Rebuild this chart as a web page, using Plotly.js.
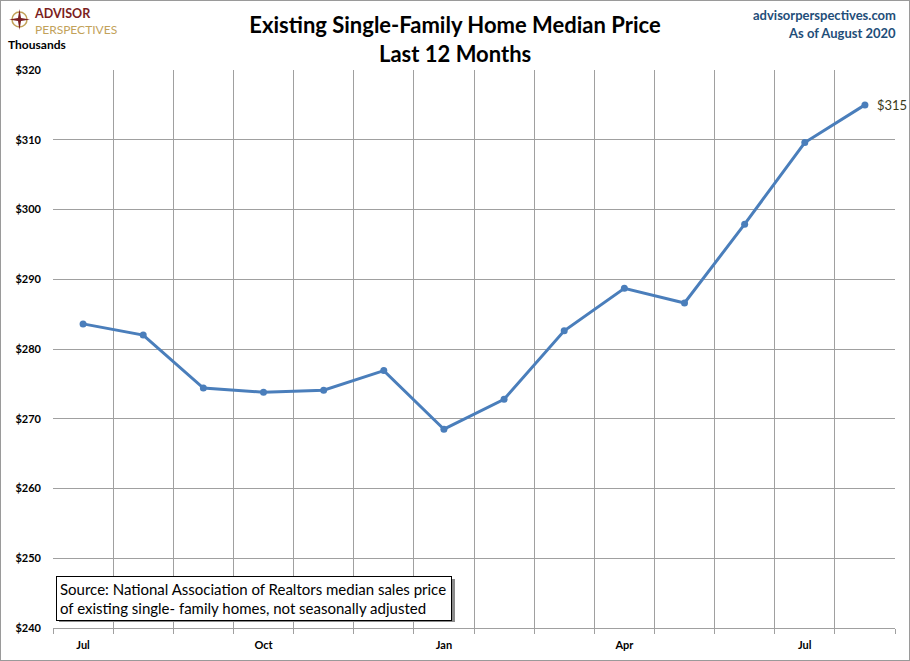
<!DOCTYPE html>
<html>
<head>
<meta charset="utf-8">
<script src="https://cdn.plot.ly/plotly-3.0.1.min.js"></script>
<style>
  html, body { margin: 0; padding: 0; background: #fff; }
  #chart { width: 910px; height: 661px; }
  #frame { position: absolute; left: 0; top: 0; width: 908px; height: 659px; border: 1px solid #9a9a9a; pointer-events: none; }
</style>
</head>
<body>
<div id="chart"></div>
<div id="frame"></div>
<script>
// ---- Data ----
const months = ["Jul 2019","Aug 2019","Sep 2019","Oct 2019","Nov 2019","Dec 2019","Jan 2020","Feb 2020","Mar 2020","Apr 2020","May 2020","Jun 2020","Jul 2020","Aug 2020"];
const medianPrice = [283.6, 282.0, 274.4, 273.8, 274.1, 276.9, 268.5, 272.8, 282.6, 288.7, 286.6, 297.9, 309.6, 315.0];
const tickLabels = ["Jul","Oct","Jan","Apr","Jul"];
const tickMonths = ["Jul 2019","Oct 2019","Jan 2020","Apr 2020","Jul 2020"];
const lastLabel = "$315";

// ---- Layout helpers (plot area 53..895 x 70..628) ----
const L = 53, R = 895, T = 70, B = 628;
const px = x => (x - L) / (R - L);
const py = y => (B - y) / (B - T);

const xIdx = months.map((m, i) => i);
const tickIdx = tickMonths.map(m => months.indexOf(m));

const font = "Lato, 'Open Sans', 'Liberation Sans', sans-serif";

const trace = {
  x: xIdx,
  y: medianPrice,
  type: "scatter",
  mode: "lines+markers",
  line: { color: "#4A7EBB", width: 3 },
  marker: { color: "#4A7EBB", size: 7 },
  hoverinfo: "skip"
};

const layout = {
  width: 910,
  height: 661,
  margin: { l: L, r: 910 - R, t: T, b: 661 - B, pad: 0 },
  paper_bgcolor: "#fff",
  plot_bgcolor: "#fff",
  showlegend: false,
  font: { family: font, color: "#000" },
  title: {
    text: "Existing Single-Family Home Median Price",
    font: { family: font, size: 22, color: "#000", weight: "bold" },
    x: 0.5, xref: "container", xanchor: "center",
    y: 1 - 25 / 661, yref: "container", yanchor: "middle"
  },
  xaxis: {
    range: [-0.5, months.length - 0.5],
    tickmode: "array",
    tickvals: tickIdx,
    ticktext: tickLabels,
    ticks: "",
    showgrid: false,
    zeroline: false,
    showline: true,
    linecolor: "#a0a0a0",
    linewidth: 1,
    ticklabelstandoff: 7,
    tickfont: { family: font, size: 11, color: "#000", weight: "bold" },
    minor: {
      tickmode: "linear",
      tick0: -0.5,
      dtick: 1,
      showgrid: true,
      gridcolor: "#a0a0a0",
      gridwidth: 1,
      ticks: "outside",
      ticklen: 5,
      tickcolor: "#a0a0a0",
      tickwidth: 1
    },
    fixedrange: true
  },
  yaxis: {
    range: [240, 320],
    dtick: 10,
    tick0: 240,
    tickprefix: "$",
    showgrid: true,
    gridcolor: "#a0a0a0",
    gridwidth: 1,
    zeroline: false,
    showline: false,
    ticks: "",
    ticklabelstandoff: 11,
    tickfont: { family: font, size: 11, color: "#000", weight: "bold" },
    fixedrange: true
  },
  shapes: [
    // source box shadow
    { type: "rect", xref: "paper", yref: "paper",
      x0: px(59), x1: px(455), y0: py(579), y1: py(622),
      fillcolor: "#8c8c8c", line: { width: 0 }, layer: "above" },
    // logo compass
    { type: "circle", xref: "paper", yref: "paper",
      x0: px(12), x1: px(27), y0: py(27), y1: py(12),
      fillcolor: "rgba(0,0,0,0)", line: { color: "#C2A25A", width: 1.5 }, layer: "above" },
    { type: "path", xref: "paper", yref: "paper", layer: "above",
      path: "M " + px(19.5) + "," + py(9) + " L " + px(21) + "," + py(18) + " L " + px(30) + "," + py(19.5) +
            " L " + px(21) + "," + py(21) + " L " + px(19.5) + "," + py(30) + " L " + px(18) + "," + py(21) +
            " L " + px(9) + "," + py(19.5) + " L " + px(18) + "," + py(18) + " Z",
      fillcolor: "#7B1E22", line: { width: 0 } }
  ],
  annotations: [
    { text: "Last 12 Months", xref: "paper", yref: "paper", x: px(455), y: py(54), xanchor: "center", yanchor: "middle",
      showarrow: false, font: { family: font, size: 22, color: "#000", weight: "bold" } },
    { text: "<span style='font-size:12.5px;font-weight:bold;fill:#7B1E22'>ADVISOR</span><br>" +
            "<span style='font-size:12px;fill:#C2A25A'>PERSPECTIVES</span>",
      xref: "paper", yref: "paper", x: px(32), y: py(21), xanchor: "left", yanchor: "middle", align: "left",
      showarrow: false, font: { family: font, size: 12, color: "#C2A25A" } },
    { text: "Thousands", xref: "paper", yref: "paper", x: px(6), y: py(45), xanchor: "left", yanchor: "middle",
      showarrow: false, font: { family: font, size: 12, color: "#000", weight: "bold" } },
    { text: "advisorperspectives.com", xref: "paper", yref: "paper", x: px(898), y: py(15), xanchor: "right", yanchor: "middle",
      showarrow: false, font: { family: font, size: 13, color: "#1F4E79", weight: "bold" } },
    { text: "As of August 2020", xref: "paper", yref: "paper", x: px(898), y: py(33), xanchor: "right", yanchor: "middle",
      showarrow: false, font: { family: font, size: 13, color: "#1F4E79", weight: "bold" } },
    { text: lastLabel, xref: "x", yref: "y", x: xIdx[xIdx.length - 1], y: medianPrice[medianPrice.length - 1],
      xanchor: "left", yanchor: "middle", xshift: 10, showarrow: false,
      font: { family: font, size: 13, color: "#3a3a1a" } },
    { text: "Source: National Association of Realtors median sales price<br>of existing single- family homes, not seasonally adjusted",
      xref: "paper", yref: "paper", x: px(56), y: py(576), xanchor: "left", yanchor: "top",
      width: 388, height: 37, align: "left", valign: "middle",
      showarrow: false, bgcolor: "#fff", bordercolor: "#000", borderwidth: 1, borderpad: 3,
      font: { family: font, size: 15, color: "#000" } }
  ]
};

Plotly.newPlot("chart", [trace], layout, { displayModeBar: false, staticPlot: true });
</script>
</body>
</html>
